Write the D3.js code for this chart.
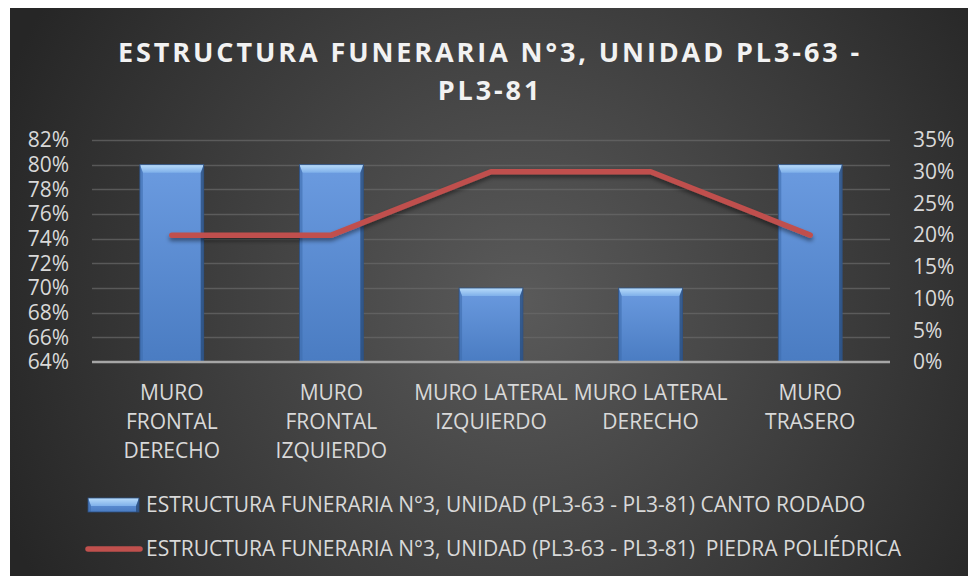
<!DOCTYPE html>
<html>
<head>
<meta charset="utf-8">
<script src="https://cdn.jsdelivr.net/npm/d3@7"></script>
<style>
  body { margin: 0; background: #fff; }
  svg text { font-family: "Open Sans", sans-serif; }
</style>
</head>
<body>
<div id="chart"></div>
<script>
var width = 968, height = 576;
var margin = { top: 140, bottom: 214, right: 78, left: 92 };

// data
var categories = ["MURO FRONTAL DERECHO", "MURO FRONTAL IZQUIERDO", "MURO LATERAL IZQUIERDO", "MURO LATERAL DERECHO", "MURO TRASERO"];
var categoryLines = [["MURO", "FRONTAL", "DERECHO"], ["MURO", "FRONTAL", "IZQUIERDO"], ["MURO LATERAL", "IZQUIERDO"], ["MURO LATERAL", "DERECHO"], ["MURO", "TRASERO"]];
var cantoRodado = [0.80, 0.80, 0.70, 0.70, 0.80];
var piedraPoliedrica = [0.20, 0.20, 0.30, 0.30, 0.20];
var leftTicks = [0.64, 0.66, 0.68, 0.70, 0.72, 0.74, 0.76, 0.78, 0.80, 0.82];
var rightTicks = [0, 0.05, 0.10, 0.15, 0.20, 0.25, 0.30, 0.35];
var titleLines = ["ESTRUCTURA FUNERARIA N°3, UNIDAD PL3-63 -", "PL3-81"];
var seriesNames = ["ESTRUCTURA FUNERARIA N°3, UNIDAD (PL3-63 - PL3-81) CANTO RODADO",
                   "ESTRUCTURA FUNERARIA N°3, UNIDAD (PL3-63 - PL3-81)  PIEDRA POLIÉDRICA"];

var svg = d3.select("#chart").append("svg")
  .attr("width", width)
  .attr("height", height);

var defs = svg.append("defs");

var bg = defs.append("radialGradient")
  .attr("id", "bgGrad")
  .attr("gradientUnits", "userSpaceOnUse")
  .attr("cx", 520).attr("cy", 300).attr("r", 560);
bg.append("stop").attr("offset", "0%").attr("stop-color", "#5a5a5a");
bg.append("stop").attr("offset", "100%").attr("stop-color", "#262626");

var barGrad = defs.append("linearGradient")
  .attr("id", "barGrad")
  .attr("x1", "0%").attr("x2", "0%").attr("y1", "0%").attr("y2", "100%");
barGrad.append("stop").attr("offset", "0%").attr("stop-color", "#6b9be0");
barGrad.append("stop").attr("offset", "100%").attr("stop-color", "#4a7cc2");

var topGrad = defs.append("linearGradient")
  .attr("id", "topGrad")
  .attr("x1", "0%").attr("x2", "0%").attr("y1", "0%").attr("y2", "100%");
topGrad.append("stop").attr("offset", "0%").attr("stop-color", "#b9dcfa");
topGrad.append("stop").attr("offset", "100%").attr("stop-color", "#7fb0ea");

var shadow = defs.append("filter").attr("id", "shadow")
  .attr("x", "-10%").attr("y", "-50%").attr("width", "120%").attr("height", "200%");
shadow.append("feDropShadow").attr("dx", 0).attr("dy", 3).attr("stdDeviation", 2)
  .attr("flood-color", "#000").attr("flood-opacity", 0.45);

svg.append("rect")
  .attr("x", 10).attr("y", 8)
  .attr("width", width - 10).attr("height", height - 8)
  .attr("fill", "url(#bgGrad)");

// title
svg.append("g").selectAll("text")
  .data(titleLines)
  .enter().append("text")
  .attr("x", 490)
  .attr("y", function(d, i) { return 62 + i * 38; })
  .attr("text-anchor", "middle")
  .attr("fill", "#f2f2f2")
  .attr("font-size", "27px")
  .attr("font-weight", "bold")
  .attr("letter-spacing", "2.9px")
  .text(function(d) { return d; });

var x = d3.scaleBand()
  .domain(categories)
  .range([margin.left, width - margin.right])
  .paddingInner(0.6)
  .paddingOuter(0.3);

var yLeft = d3.scaleLinear()
  .domain([0.64, 0.82])
  .range([height - margin.bottom, margin.top]);

var yRight = d3.scaleLinear()
  .domain([0, 0.35])
  .range([height - margin.bottom, margin.top]);

var pct = d3.format(".0%");

// gridlines
svg.append("g")
  .selectAll("line")
  .data(leftTicks.slice(1))
  .enter().append("line")
  .attr("x1", margin.left).attr("x2", width - margin.right)
  .attr("y1", function(d) { return Math.round(yLeft(d)) + 0.5; })
  .attr("y2", function(d) { return Math.round(yLeft(d)) + 0.5; })
  .attr("stroke", "#6a6a6a")
  .attr("stroke-opacity", 0.7)
  .attr("stroke-width", 1.5);

// left axis
var axisL = svg.append("g")
  .attr("transform", "translate(" + (margin.left - 23) + ",0)")
  .call(d3.axisLeft(yLeft).tickValues(leftTicks).tickFormat(pct).tickSize(0).tickPadding(0));
axisL.select(".domain").remove();
axisL.selectAll("text").attr("fill", "#d9d9d9").attr("font-size", "21px")
  .attr("font-family", "Open Sans, sans-serif");

// right axis
var axisR = svg.append("g")
  .attr("transform", "translate(" + (width - margin.right + 23) + ",0)")
  .call(d3.axisRight(yRight).tickValues(rightTicks).tickFormat(pct).tickSize(0).tickPadding(0));
axisR.select(".domain").remove();
axisR.selectAll("text").attr("fill", "#d9d9d9").attr("font-size", "21px")
  .attr("font-family", "Open Sans, sans-serif");

// bars with bevel
var bars = svg.append("g").selectAll("g")
  .data(cantoRodado)
  .enter().append("g");

function bevelBar(g, x0, y0, w, h) {
  var b = 8, s = 3;
  g.append("rect").attr("x", x0).attr("y", y0).attr("width", w).attr("height", h)
    .attr("fill", "url(#barGrad)");
  g.append("path")
    .attr("d", "M" + x0 + "," + y0 + "H" + (x0 + w) + "L" + (x0 + w - s) + "," + (y0 + b) + "H" + (x0 + s) + "Z")
    .attr("fill", "url(#topGrad)");
  g.append("path")
    .attr("d", "M" + x0 + "," + y0 + "L" + (x0 + s) + "," + (y0 + b) + "V" + (y0 + h) + "H" + x0 + "Z")
    .attr("fill", "#3d6cae").attr("opacity", 0.6);
  g.append("path")
    .attr("d", "M" + (x0 + w) + "," + y0 + "L" + (x0 + w - s) + "," + (y0 + b) + "V" + (y0 + h) + "H" + (x0 + w) + "Z")
    .attr("fill", "#24456f").attr("opacity", 0.7);
  g.append("rect").attr("x", x0).attr("y", y0).attr("width", w).attr("height", h)
    .attr("fill", "none").attr("stroke", "#2c4f80").attr("stroke-width", 0.8);
}

bars.each(function(d, i) {
  var y0 = yLeft(d);
  bevelBar(d3.select(this), x(categories[i]), y0, x.bandwidth(), yLeft(0.64) - y0);
});

// baseline
svg.append("line")
  .attr("x1", margin.left).attr("x2", width - margin.right)
  .attr("y1", yLeft(0.64)).attr("y2", yLeft(0.64))
  .attr("stroke", "#a6a6a6").attr("stroke-width", 2.5);

// line series
var line = d3.line()
  .x(function(d, i) { return x(categories[i]) + x.bandwidth() / 2; })
  .y(function(d) { return yRight(d); });

svg.append("path")
  .datum(piedraPoliedrica)
  .attr("d", line)
  .attr("fill", "none")
  .attr("stroke", "#c0504d")
  .attr("stroke-width", 5.5)
  .attr("stroke-linecap", "round")
  .attr("stroke-linejoin", "round")
  .attr("filter", "url(#shadow)");

// category labels
var labels = svg.append("g").selectAll("text")
  .data(categoryLines)
  .enter().append("text")
  .attr("text-anchor", "middle")
  .attr("fill", "#d9d9d9")
  .attr("font-size", "21px")
  .attr("transform", function(d, i) {
    return "translate(" + (x(categories[i]) + x.bandwidth() / 2) + ",400)";
  });
labels.selectAll("tspan")
  .data(function(d) { return d; })
  .enter().append("tspan")
  .attr("x", 0)
  .attr("y", function(d, i) { return i * 29; })
  .text(function(d) { return d; });

// legend
var legend = svg.append("g");
var lg1 = legend.append("g");
bevelBar(lg1, 88, 498, 51, 14);
legend.append("line")
  .attr("x1", 88).attr("x2", 140)
  .attr("y1", 549).attr("y2", 549)
  .attr("stroke", "#c0504d").attr("stroke-width", 5.5)
  .attr("stroke-linecap", "round");

legend.selectAll("text.leg")
  .data(seriesNames)
  .enter().append("text")
  .attr("class", "leg")
  .attr("x", 146)
  .attr("y", function(d, i) { return 512 + i * 44; })
  .attr("fill", "#d9d9d9")
  .attr("font-size", "21px")
  .style("white-space", "pre")
  .text(function(d) { return d; });
</script>
</body>
</html>
